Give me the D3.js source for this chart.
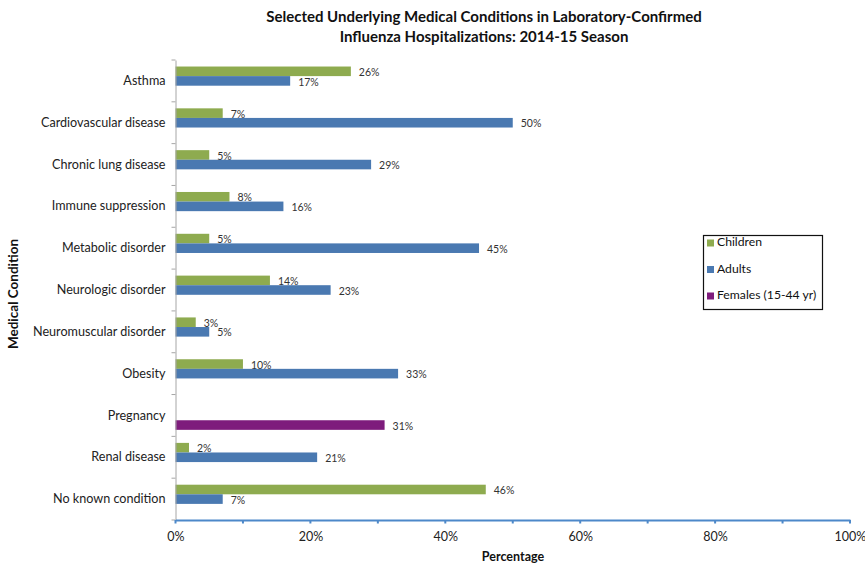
<!DOCTYPE html>
<html>
<head>
<meta charset="utf-8">
<script src="https://cdn.jsdelivr.net/npm/d3@7"></script>
<style>
  html, body { margin: 0; padding: 0; background: #fff; }
  svg { display: block; font-family: Lato, "Liberation Sans", sans-serif; }
</style>
</head>
<body>
<svg id="chart" width="865" height="568"></svg>
<script>
const categories = ["Asthma", "Cardiovascular disease", "Chronic lung disease", "Immune suppression",
  "Metabolic disorder", "Neurologic disorder", "Neuromuscular disorder", "Obesity", "Pregnancy",
  "Renal disease", "No known condition"];
const seriesNames = ["Children", "Adults", "Females (15-44 yr)"];
const childrenValues = [26, 7, 5, 8, 5, 14, 3, 10, null, 2, 46];
const adultsValues = [17, 50, 29, 16, 45, 23, 5, 33, null, 21, 7];
const femalesValues = [null, null, null, null, null, null, null, null, 31, null, null];
const seriesColors = ["#8eab4f", "#4a79b1", "#7e1c7c"];
const xTicks = [0, 20, 40, 60, 80, 100];
const xMinorTicks = [0, 10, 20, 30, 40, 50, 60, 70, 80, 90, 100];

const seriesValues = [childrenValues, adultsValues, femalesValues];
const svg = d3.select("#chart");

const x = d3.scaleLinear().domain([0, 100]).range([175.5, 850]);
const y0 = d3.scaleBand().domain(categories).range([60, 520]).padding(0);
const y1 = d3.scaleBand().domain(seriesNames).range([0, y0.bandwidth()]).paddingOuter(0.68).paddingInner(0);

// Title
const title = svg.append("text").attr("x", 484).attr("text-anchor", "middle")
  .attr("font-weight", "bold").attr("font-size", 15).attr("fill", "#111");
title.append("tspan").attr("x", 484).attr("y", 22).text("Selected Underlying Medical Conditions in Laboratory-Confirmed");
title.append("tspan").attr("x", 484).attr("y", 42).text("Influenza Hospitalizations: 2014-15 Season");

// Bars
categories.forEach((c, i) => {
  seriesNames.forEach((s, j) => {
    const v = seriesValues[j][i];
    if (v === null) return;
    const yy = y0(c) + y1(s);
    svg.append("rect")
      .attr("x", x(0)).attr("y", yy)
      .attr("width", x(v) - x(0)).attr("height", y1.bandwidth())
      .attr("fill", seriesColors[j]);
    svg.append("text")
      .attr("x", x(v) + 8).attr("y", yy + y1.bandwidth() / 2 + 2)
      .attr("dominant-baseline", "middle")
      .attr("font-size", 10.5).attr("fill", "#333")
      .text(v + "%");
  });
});

// Y axis
const yAxis = d3.axisLeft(y0).tickSize(0).tickPadding(10);
const yg = svg.append("g").attr("transform", `translate(${x(0)},0)`).call(yAxis);
yg.select(".domain").attr("stroke", "#a6a6a6");
yg.selectAll("text").attr("font-size", 12.6).attr("fill", "#222").attr("font-family", "Lato, 'Liberation Sans', sans-serif");
// category separator ticks
const sepPositions = categories.map(c => y0(c)).concat([y0.range()[1]]);
svg.append("g").selectAll("line").data(sepPositions).join("line")
  .attr("x1", x(0) - 4).attr("x2", x(0)).attr("y1", d => d).attr("y2", d => d)
  .attr("stroke", "#a6a6a6");

// X axis
const xAxis = d3.axisBottom(x).tickValues(xTicks).tickFormat(d => d + "%").tickSize(0).tickPadding(12);
const xg = svg.append("g").attr("transform", "translate(0,520)").call(xAxis);
xg.select(".domain").attr("stroke", "#4d88c9").attr("stroke-width", 2.2);
xg.selectAll("text").attr("font-size", 12.5).attr("fill", "#222").attr("font-family", "Lato, 'Liberation Sans', sans-serif");
svg.append("g").selectAll("line").data(xMinorTicks).join("line")
  .attr("x1", d => x(d)).attr("x2", d => x(d)).attr("y1", 520).attr("y2", 523.5)
  .attr("stroke", "#4d88c9").attr("stroke-width", 2);

// Axis titles
svg.append("text").attr("x", 513).attr("y", 561).attr("text-anchor", "middle")
  .attr("font-weight", "bold").attr("font-size", 12.5).attr("fill", "#111").text("Percentage");
svg.append("text").attr("transform", "translate(18,294) rotate(-90)").attr("text-anchor", "middle")
  .attr("font-weight", "bold").attr("font-size", 13.5).attr("fill", "#111").text("Medical Condition");

// Legend
const lg = svg.append("g");
lg.append("rect").attr("x", 703.5).attr("y", 235.5).attr("width", 119).attr("height", 74)
  .attr("fill", "#fff").attr("stroke", "#111").attr("stroke-width", 1.2);
seriesNames.forEach((s, j) => {
  const cy = 243 + j * 26.5;
  lg.append("rect").attr("x", 707).attr("y", cy - 3.5).attr("width", 7).attr("height", 7).attr("fill", seriesColors[j]);
  lg.append("text").attr("x", 717).attr("y", cy).attr("dominant-baseline", "middle")
    .attr("font-size", 12.2).attr("fill", "#111").text(s);
});
</script>
</body>
</html>
